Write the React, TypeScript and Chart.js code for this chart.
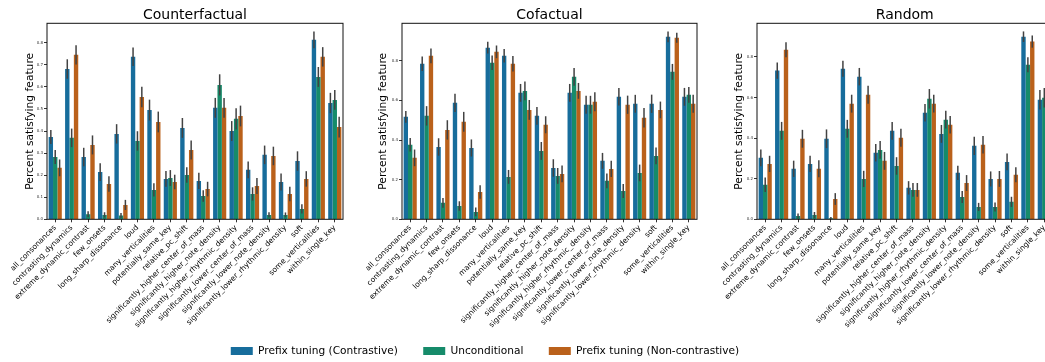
import React, { useEffect, useRef } from 'react';
import { Chart, registerables } from 'chart.js';

Chart.register(...registerables);

const FONT = "'DejaVu Sans', sans-serif";

const categories = [
  'all_consonances',
  'contrasting_dynamics',
  'extreme_dynamic_contrast',
  'few_onsets',
  'long_sharp_dissonance',
  'loud',
  'many_verticalities',
  'potentially_same_key',
  'relative_pc_shift',
  'significantly_higher_center_of_mass',
  'significantly_higher_note_density',
  'significantly_higher_rhythmic_density',
  'significantly_lower_center_of_mass',
  'significantly_lower_note_density',
  'significantly_lower_rhythmic_density',
  'soft',
  'some_verticalities',
  'within_single_key',
];

const seriesNames = ['Prefix tuning (Contrastive)', 'Unconditional', 'Prefix tuning (Non-contrastive)'];
const seriesColors = ['#176d9c', '#168b6a', '#ba611b'];

const panelTitles = ['Counterfactual', 'Cofactual', 'Random'];
const yMaxes = [0.888, 0.989, 0.966];
const yStepSizes = [0.1, 0.2, 0.2];
const yAxisTitle = 'Percent satisfying feature';

// Counterfactual
const cfContrastive = [0.373, 0.681, 0.282, 0.214, 0.387, 0.736, 0.495, 0.183, 0.414, 0.174, 0.505, 0.400, 0.224, 0.292, 0.169, 0.264, 0.813, 0.527];
const cfUnconditional = [0.282, 0.369, 0.023, 0.020, 0.017, 0.355, 0.133, 0.187, 0.201, 0.106, 0.609, 0.455, 0.115, 0.020, 0.020, 0.047, 0.645, 0.541];
const cfNonContrastive = [0.233, 0.745, 0.337, 0.160, 0.065, 0.554, 0.441, 0.169, 0.314, 0.137, 0.505, 0.468, 0.151, 0.287, 0.115, 0.183, 0.736, 0.418];
const cfContrastiveErr = [0.032, 0.044, 0.042, 0.040, 0.044, 0.042, 0.047, 0.036, 0.045, 0.037, 0.045, 0.045, 0.038, 0.042, 0.038, 0.044, 0.038, 0.046];
const cfUnconditionalErr = [0.032, 0.042, 0.014, 0.012, 0.011, 0.044, 0.030, 0.036, 0.035, 0.026, 0.048, 0.048, 0.030, 0.012, 0.011, 0.021, 0.045, 0.045];
const cfNonContrastiveErr = [0.038, 0.044, 0.043, 0.035, 0.023, 0.046, 0.047, 0.033, 0.043, 0.033, 0.045, 0.047, 0.036, 0.042, 0.033, 0.035, 0.044, 0.047];

// Cofactual
const coContrastive = [0.517, 0.785, 0.365, 0.588, 0.360, 0.866, 0.825, 0.638, 0.522, 0.259, 0.638, 0.578, 0.295, 0.618, 0.583, 0.583, 0.921, 0.618];
const coUnconditional = [0.376, 0.522, 0.083, 0.067, 0.037, 0.790, 0.214, 0.648, 0.345, 0.219, 0.719, 0.578, 0.194, 0.143, 0.234, 0.320, 0.744, 0.628];
const coNonContrastive = [0.310, 0.825, 0.451, 0.492, 0.138, 0.845, 0.785, 0.552, 0.477, 0.229, 0.648, 0.593, 0.254, 0.578, 0.512, 0.552, 0.916, 0.583];
const coContrastiveErr = [0.030, 0.037, 0.044, 0.046, 0.043, 0.030, 0.034, 0.045, 0.045, 0.044, 0.045, 0.045, 0.040, 0.044, 0.045, 0.046, 0.027, 0.045];
const coUnconditionalErr = [0.034, 0.049, 0.025, 0.024, 0.022, 0.037, 0.035, 0.047, 0.045, 0.040, 0.045, 0.045, 0.037, 0.035, 0.042, 0.042, 0.040, 0.040];
const coNonContrastiveErr = [0.042, 0.037, 0.049, 0.050, 0.034, 0.032, 0.039, 0.050, 0.043, 0.042, 0.040, 0.048, 0.041, 0.046, 0.049, 0.042, 0.025, 0.045];

// Random
const rdContrastive = [0.303, 0.733, 0.249, 0.273, 0.397, 0.742, 0.703, 0.328, 0.436, 0.155, 0.525, 0.421, 0.229, 0.362, 0.199, 0.283, 0.900, 0.589];
const rdUnconditional = [0.170, 0.436, 0.016, 0.021, 0.005, 0.446, 0.199, 0.342, 0.263, 0.145, 0.594, 0.491, 0.110, 0.061, 0.061, 0.086, 0.762, 0.599];
const rdNonContrastive = [0.273, 0.836, 0.397, 0.249, 0.100, 0.570, 0.614, 0.288, 0.402, 0.145, 0.570, 0.466, 0.179, 0.367, 0.199, 0.219, 0.876, 0.560];
const rdContrastiveErr = [0.041, 0.040, 0.040, 0.040, 0.046, 0.039, 0.043, 0.043, 0.044, 0.033, 0.043, 0.044, 0.035, 0.045, 0.037, 0.041, 0.026, 0.048];
const rdUnconditionalErr = [0.036, 0.044, 0.012, 0.015, 0.006, 0.044, 0.040, 0.044, 0.043, 0.034, 0.048, 0.044, 0.030, 0.020, 0.022, 0.025, 0.037, 0.048];
const rdNonContrastiveErr = [0.040, 0.037, 0.044, 0.042, 0.029, 0.044, 0.044, 0.044, 0.044, 0.034, 0.044, 0.043, 0.039, 0.043, 0.039, 0.037, 0.030, 0.045];

const panelValues = [
  [cfContrastive, cfUnconditional, cfNonContrastive],
  [coContrastive, coUnconditional, coNonContrastive],
  [rdContrastive, rdUnconditional, rdNonContrastive],
];
const panelErrors = [
  [cfContrastiveErr, cfUnconditionalErr, cfNonContrastiveErr],
  [coContrastiveErr, coUnconditionalErr, coNonContrastiveErr],
  [rdContrastiveErr, rdUnconditionalErr, rdNonContrastiveErr],
];

// Layout (pixels): canvas size, plot-area edges, y-title centre
const layouts = [
  { w: 360, h: 362, left: 47, right: 343, yTitleX: 30 },
  { w: 720, h: 362, left: 402, right: 697, yTitleX: 383 },
  { w: 1060, h: 362, left: 757, right: 1052.5, yTitleX: 739 },
];
const LEGEND_CANVAS = { w: 970, h: 367 };
const PLOT_BOTTOM = 219.3;
const TITLE_FONT = 14;
const YTITLE_FONT = 10.7;
const LEGEND_FONT = 10.6;

const errorBarPlugin = {
  id: 'errorBarsAndFrame',
  afterDatasetsDraw(chart: any) {
    const ctx = chart.ctx;
    const y = chart.scales.y;
    ctx.save();
    ctx.strokeStyle = '#424242';
    ctx.lineWidth = 1.5;
    chart.data.datasets.forEach((ds: any, di: number) => {
      const meta = chart.getDatasetMeta(di);
      meta.data.forEach((el: any, i: number) => {
        const v = ds.data[i];
        const e = ds.errors[i];
        ctx.beginPath();
        ctx.moveTo(el.x, y.getPixelForValue(Math.max(0, v - e)));
        ctx.lineTo(el.x, y.getPixelForValue(v + e));
        ctx.stroke();
      });
    });
    const a = chart.chartArea;
    ctx.strokeStyle = '#111';
    ctx.lineWidth = 1;
    ctx.strokeRect(a.left, a.top, a.right - a.left, a.bottom - a.top);
    ctx.restore();
  },
};

function Panel({ index }: { index: number }) {
  const ref = useRef<HTMLCanvasElement>(null);
  const lay = layouts[index];
  useEffect(() => {
    const yTitleLineHeight = YTITLE_FONT * 1.2;
    const datasets = seriesNames.map((name, si) => ({
      label: name,
      data: panelValues[index][si],
      errors: panelErrors[index][si],
      backgroundColor: seriesColors[si],
      borderWidth: 0,
      categoryPercentage: 0.8,
      barPercentage: 1.0,
      yAxisID: 'y',
    }));
    const chart = new Chart(ref.current as HTMLCanvasElement, {
      type: 'bar',
      data: { labels: categories, datasets: datasets as any },
      options: {
        responsive: false,
        animation: false,
        devicePixelRatio: 1,
        layout: {
          autoPadding: false,
          padding: { top: 0, left: 0, right: lay.w - lay.right, bottom: 0 },
        },
        plugins: {
          title: {
            display: true,
            text: panelTitles[index],
            fullSize: false,
            font: { family: FONT, size: TITLE_FONT, weight: 'normal' },
            color: '#000',
            padding: { top: 6.5, bottom: 0 },
          },
          legend: { display: false },
          tooltip: { enabled: false },
        },
        scales: {
          x: {
            type: 'category',
            offset: true,
            grid: { display: true, drawOnChartArea: false, drawTicks: true, tickLength: 3, offset: false, color: '#000', lineWidth: 0.8 },
            border: { display: false },
            ticks: { autoSkip: false, minRotation: 45, maxRotation: 45, font: { family: FONT, size: 7.5 }, color: '#000', padding: 1 },
            afterFit: (s: any) => {
              s.height = lay.h - PLOT_BOTTOM;
            },
          },
          y: {
            type: 'linear',
            position: 'left',
            min: 0,
            max: yMaxes[index],
            grid: { display: true, drawOnChartArea: false, drawTicks: true, tickLength: 3, color: '#000', lineWidth: 0.8 },
            border: { display: false },
            ticks: {
              stepSize: yStepSizes[index],
              includeBounds: false,
              font: { family: FONT, size: 4 },
              color: '#333',
              padding: 1,
              callback: (v: any) => Number(v).toFixed(1),
            },
            title: {
              display: true,
              text: yAxisTitle,
              font: { family: FONT, size: YTITLE_FONT },
              color: '#000',
              padding: { top: lay.yTitleX - yTitleLineHeight / 2, bottom: 0 },
            },
            afterFit: (s: any) => {
              s.width = lay.left;
            },
          },
        },
      } as any,
      plugins: [errorBarPlugin],
    });
    return () => chart.destroy();
  }, [index]);
  return (
    <canvas
      ref={ref}
      width={lay.w}
      height={lay.h}
      style={{ position: 'absolute', left: 0, top: 0, width: lay.w, height: lay.h }}
    />
  );
}

function SharedLegend() {
  const ref = useRef<HTMLCanvasElement>(null);
  useEffect(() => {
    const chart = new Chart(ref.current as HTMLCanvasElement, {
      type: 'bar',
      data: {
        labels: [],
        datasets: seriesNames.map((name, si) => ({
          label: name,
          data: [],
          backgroundColor: seriesColors[si],
          borderWidth: 0,
        })) as any,
      },
      options: {
        responsive: false,
        animation: false,
        devicePixelRatio: 1,
        layout: { padding: { top: 0, left: 0, right: 0, bottom: 0.7 } },
        scales: { x: { display: false }, y: { display: false } },
        plugins: {
          legend: {
            display: true,
            position: 'bottom',
            labels: {
              boxWidth: 22,
              boxHeight: 8,
              padding: 25.4,
              color: '#000',
              font: { family: FONT, size: LEGEND_FONT },
            },
          },
          title: { display: false },
          tooltip: { enabled: false },
        },
      } as any,
    });
    return () => chart.destroy();
  }, []);
  return (
    <canvas
      ref={ref}
      width={LEGEND_CANVAS.w}
      height={LEGEND_CANVAS.h}
      style={{ position: 'absolute', left: 0, top: 0, width: LEGEND_CANVAS.w, height: LEGEND_CANVAS.h }}
    />
  );
}

export default function App() {
  return (
    <div
      style={{
        position: 'absolute',
        left: 0,
        top: 0,
        width: 1045,
        height: 362,
        overflow: 'hidden',
        background: '#fff',
      }}
    >
      <Panel index={0} />
      <Panel index={1} />
      <Panel index={2} />
      <SharedLegend />
    </div>
  );
}
